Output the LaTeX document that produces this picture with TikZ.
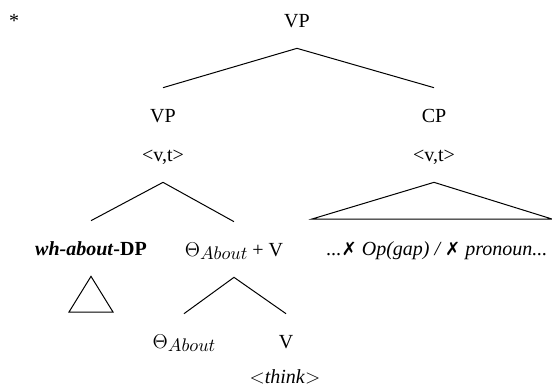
\documentclass[tikz,border=0pt,12pt]{standalone}
\usepackage{amsmath,amssymb}
\usepackage{fontspec}
\setmainfont{Liberation Serif}
\newfontfamily\markfont{DejaVu Sans}
\usepackage{tikz}
\usetikzlibrary{positioning,calc}
\newcommand{\lowsub}[1]{\raisebox{-2.2pt}{\fontsize{11}{12}\selectfont$#1$}}
\newcommand{\nogo}{{\markfont\small ✗}}

\begin{document}
\begin{tikzpicture}[
  x=0.6pt, y=-0.6pt,
  cat/.style={anchor=base, inner xsep=0pt, inner ysep=12.6pt,
              text height=7.8pt, text depth=0pt},
  note/.style={anchor=base, inner sep=0pt},
  branch/.style={line width=0.6pt, line join=miter}]
\useasboundingbox (0,0) rectangle (552,391);
\node[note] (star) at (14,27) {*};
\node[cat] (vp) at (297,27) {VP};
\node[cat] (vpl) at (163,122) {VP};
\node[cat] (cp) at (434,122) {CP};
\node[cat] (vtl) at (163,161) {<v,t>};
\node[cat] (vtr) at (434,161) {<v,t>};
\node[cat] (whdp) at (91,255) {\textbf{\textit{wh-about}-DP}};
\node[cat] (thv) at (234,256) {$\Theta$\lowsub{About} + V};
\node[cat] (gap) at (437,255) {\textit{...\nogo{} Op(gap) / \nogo{} pronoun...}};
\node[cat] (theta) at (184,348) {$\Theta$\lowsub{About}};
\node[cat] (verb) at (286,348) {V};
\node[note] (think) at (285,383) {$<$\textit{think}$>$};
\coordinate (cpl) at (312,219);
\coordinate (cpr) at (552,219);
\coordinate (dpl) at (69,312);
\coordinate (dpr) at (113,312);
\draw[branch] (vpl.north) -- (vp.south) -- (cp.north);
\draw[branch] (whdp.north) -- (vtl.south) -- (thv.north);
\draw[branch] (theta.north) -- (thv.south) -- (verb.north);
\draw[branch] (vtr.south) -- (cpl) -- (cpr) -- cycle;
\draw[branch] (whdp.south) -- (dpl) -- (dpr) -- cycle;
\end{tikzpicture}
\end{document}
